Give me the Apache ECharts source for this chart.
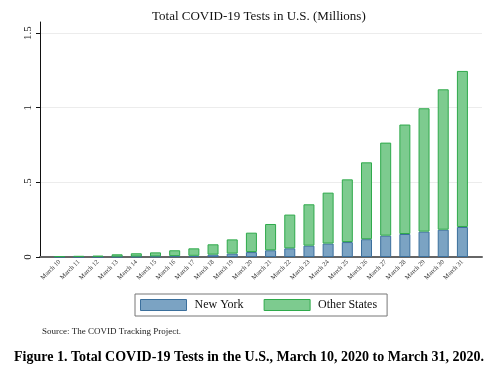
<!DOCTYPE html>
<html>
<head>
<meta charset="utf-8">
<script src="https://cdn.jsdelivr.net/npm/echarts@6/dist/echarts.min.js"></script>
<style>
  html, body { margin: 0; padding: 0; background: #fff; }
  #main { width: 498px; height: 375px; }
</style>
</head>
<body>
<div id="main"></div>
<script>
var days = ['March 10', 'March 11', 'March 12', 'March 13', 'March 14', 'March 15',
    'March 16', 'March 17', 'March 18', 'March 19', 'March 20', 'March 21',
    'March 22', 'March 23', 'March 24', 'March 25', 'March 26', 'March 27',
    'March 28', 'March 29', 'March 30', 'March 31'];
// millions of tests
var newYork = [0.001, 0.001, 0.001, 0.002, 0.003, 0.004, 0.006, 0.008, 0.016, 0.023, 0.033, 0.045,
    0.058, 0.076, 0.090, 0.100, 0.119, 0.143, 0.154, 0.170, 0.183, 0.201];
var otherStates = [0.004, 0.006, 0.008, 0.016, 0.022, 0.027, 0.039, 0.050, 0.069, 0.095, 0.130, 0.176,
    0.226, 0.277, 0.341, 0.420, 0.515, 0.623, 0.733, 0.826, 0.940, 1.045];
var yTicks = [0, 0.5, 1, 1.5];

var serif = '"Liberation Serif", "DejaVu Serif", serif';

var myChart = echarts.init(document.getElementById('main'));
var option = {
    animation: false,
    textStyle: {fontFamily: serif},
    title: [
        {
            text: 'Total COVID-19 Tests in U.S. (Millions)',
            left: 147, top: 5,
            textStyle: {fontFamily: serif, fontSize: 13, fontWeight: 'normal', color: '#111'}
        },
        {
            text: 'Source: The COVID Tracking Project.',
            left: 37, top: 322,
            textStyle: {fontFamily: serif, fontSize: 9, fontWeight: 'normal', color: '#222'}
        },
        {
            text: 'Figure 1. Total COVID-19 Tests in the U.S., March 10, 2020 to March 31, 2020.',
            left: 'center', top: 345,
            textStyle: {fontFamily: serif, fontSize: 14, fontWeight: 'bold', color: '#000'}
        }
    ],
    legend: {
        data: ['New York', 'Other States'],
        left: 135, top: 294,
        padding: [5, 10, 5, 5],
        itemWidth: 46, itemHeight: 11, itemGap: 20,
        borderColor: '#777', borderWidth: 1,
        icon: 'rect',
        itemStyle: {borderWidth: 1},
        textStyle: {fontFamily: serif, fontSize: 12, color: '#111', padding: [0, 0, 0, 3]}
    },
    grid: [
        {left: 50, right: 26, top: 33, bottom: 118},
        {left: 40, right: 16, top: 33, bottom: 118},
        {left: 40, right: 16, top: 22, bottom: 118}
    ],
    xAxis: [
        {
            type: 'category', gridIndex: 0, data: days,
            axisLine: {show: false}, axisTick: {show: false},
            axisLabel: {
                interval: 0, rotate: 45, fontSize: 6.5, margin: 4,
                fontFamily: serif, color: '#333'
            }
        },
        {
            type: 'value', gridIndex: 1, min: 0, max: 1,
            axisLine: {show: true, onZero: false, lineStyle: {color: '#666', width: 2}},
            axisTick: {show: false}, axisLabel: {show: false}, splitLine: {show: false}
        },
        {
            type: 'value', gridIndex: 2, min: 0, max: 1, show: false
        }
    ],
    yAxis: [
        {
            type: 'value', gridIndex: 0, min: 0, max: 1.5,
            axisLine: {show: false}, axisTick: {show: false},
            axisLabel: {show: false}, splitLine: {show: false}
        },
        {
            type: 'value', gridIndex: 1, min: 0, max: 1.5, interval: 0.5,
            axisLine: {show: false},
            axisTick: {show: true, length: 4, lineStyle: {color: '#111'}},
            axisLabel: {
                rotate: 90, fontSize: 11, margin: 6, color: '#222', fontFamily: serif,
                formatter: function (v) {
                    return yTicks.indexOf(v) < 0 ? '' : String(v).replace(/^0\./, '.');
                }
            },
            splitLine: {show: true, lineStyle: {color: '#ececec', width: 1}}
        },
        {
            // axis spine runs a little above the top tick
            type: 'value', gridIndex: 2, min: 0, max: 1,
            axisLine: {show: true, lineStyle: {color: '#111', width: 1}},
            axisTick: {show: false}, axisLabel: {show: false}, splitLine: {show: false}
        }
    ],
    series: [
        {
            name: 'New York', type: 'bar', stack: 'tests',
            xAxisIndex: 0, yAxisIndex: 0, barWidth: 11,
            data: newYork,
            itemStyle: {color: '#7ba3c3', borderColor: '#3b6f9c', borderWidth: 1}
        },
        {
            name: 'Other States', type: 'bar', stack: 'tests',
            xAxisIndex: 0, yAxisIndex: 0, barWidth: 11,
            data: otherStates,
            itemStyle: {color: '#7dcb8f', borderColor: '#2faa4b', borderWidth: 1}
        }
    ]
};
myChart.setOption(option);
</script>
</body>
</html>
